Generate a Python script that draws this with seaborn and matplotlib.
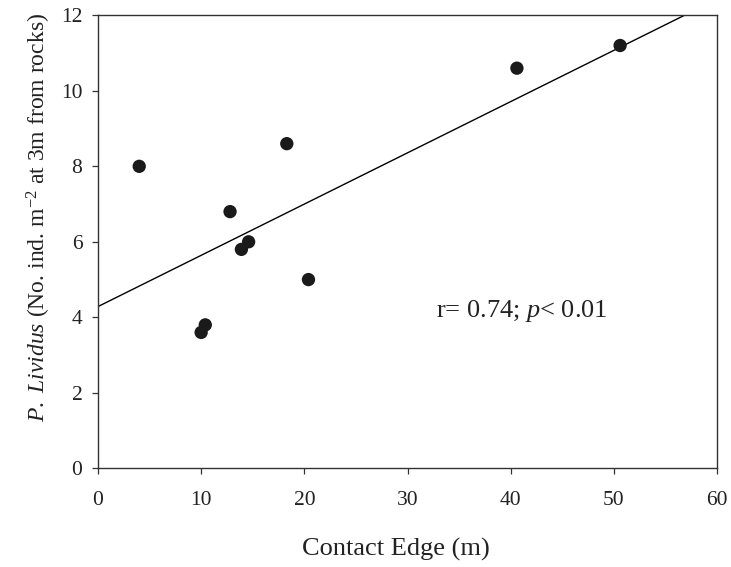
import matplotlib
matplotlib.use("Agg")
import matplotlib.pyplot as plt
import seaborn as sns
import pandas as pd

# Data
contact_edge = [4.0, 10.0, 10.4, 12.8, 13.9, 14.6, 18.3, 20.4, 40.6, 50.6]
lividus = [8.0, 3.6, 3.8, 6.8, 5.8, 6.0, 8.6, 5.0, 10.6, 11.2]
x_ticks = [0, 10, 20, 30, 40, 50, 60]
y_ticks = [0, 2, 4, 6, 8, 10, 12]
annotation = "r= 0.74; $\\it{p}$< 0.01"

df = pd.DataFrame({"edge": contact_edge, "lividus": lividus})

sns.set_style("ticks")
plt.rcParams["font.family"] = ["Liberation Serif", "DejaVu Serif"]
plt.rcParams["mathtext.fontset"] = "custom"
plt.rcParams["mathtext.rm"] = "Liberation Serif"
plt.rcParams["mathtext.it"] = "Liberation Serif:italic"
plt.rcParams["mathtext.bf"] = "Liberation Serif:bold"

fig = plt.figure(figsize=(7.31, 5.67), dpi=100)
ax = fig.add_axes([0.134, 0.174, 0.847, 0.799])
ax.set_xlim(0, 60)
ax.set_ylim(0, 12)

sns.regplot(data=df, x="edge", y="lividus", ax=ax, ci=None, truncate=False,
            scatter_kws=dict(s=92, color="#1a1a1a", edgecolor="none", alpha=1, zorder=3),
            line_kws=dict(color="black", lw=1.0))

ax.set_xlim(0, 60)
ax.set_ylim(0, 12)
ax.set_xticks(x_ticks)
ax.set_yticks(y_ticks)
ax.tick_params(axis="both", direction="out", length=4.3, width=0.9, labelsize=15.5,
               colors="#333333", labelcolor="#222222")
ax.tick_params(axis="x", pad=12)
ax.tick_params(axis="y", pad=7)
for side in ["top", "right", "left", "bottom"]:
    ax.spines[side].set_visible(True)
    ax.spines[side].set_color("#333333")
    ax.spines[side].set_linewidth(1.0)

ax.set_xlabel("Contact Edge (m)", fontsize=19, color="#222222")
ax.xaxis.set_label_coords(0.481, -0.153)
ax.set_ylabel("$\\it{P.\\ Lividus}$ (No. ind. m$^{-2}$ at 3m from rocks)",
              fontsize=17, color="#222222")
ax.yaxis.set_label_coords(-0.073, 0.554)

ax.text(32.8, 4.0, annotation, fontsize=19, color="#222222", va="baseline", ha="left")

fig.savefig("out.png", dpi=100)
